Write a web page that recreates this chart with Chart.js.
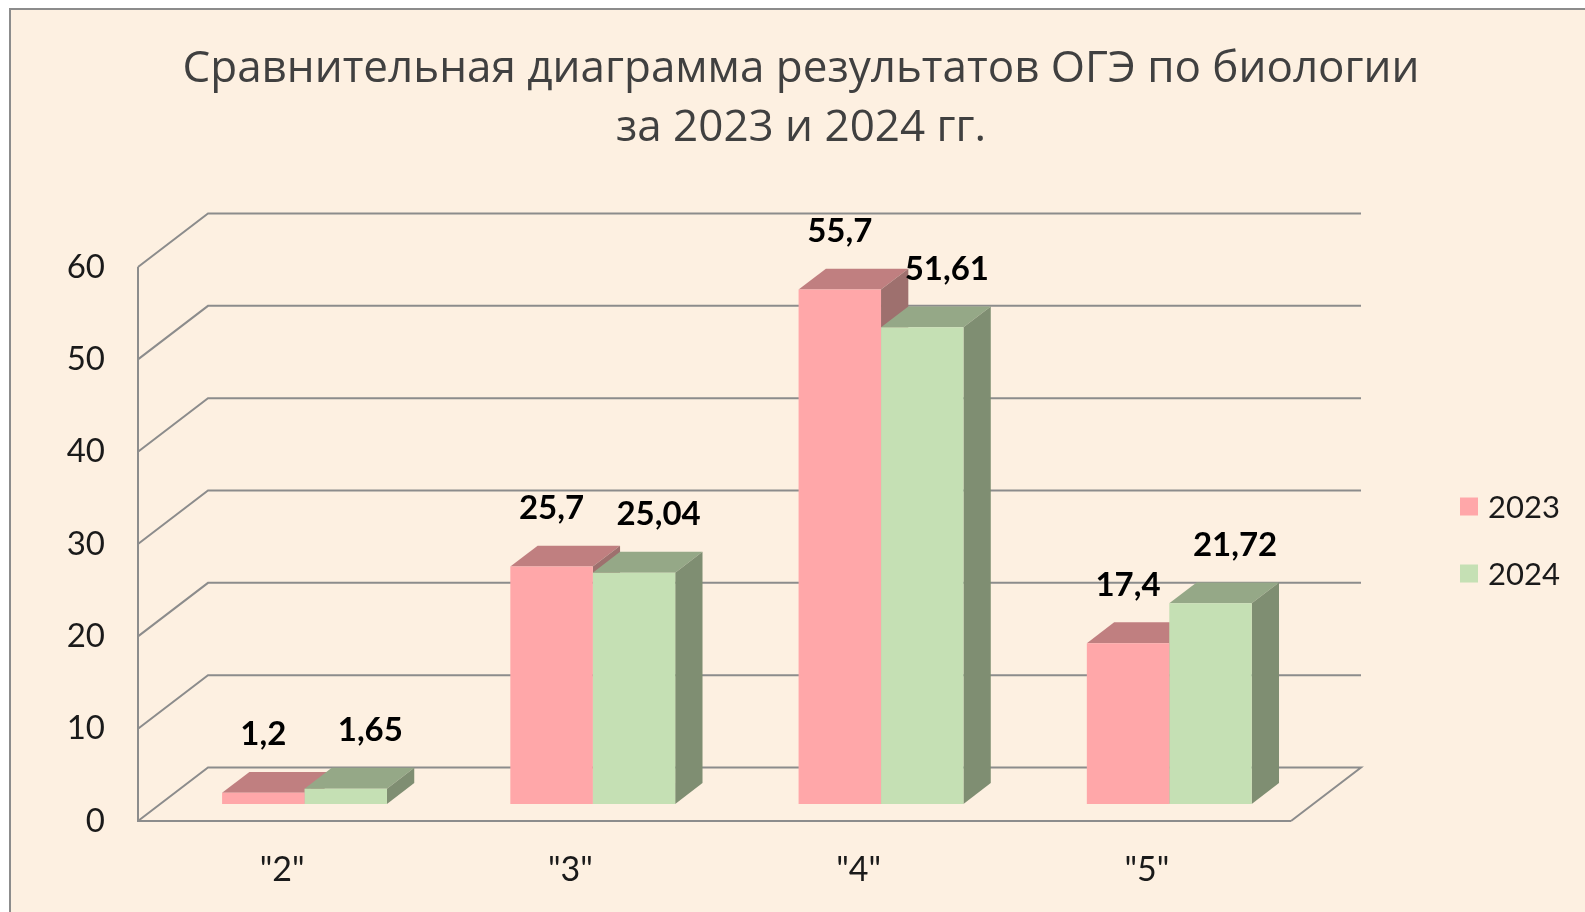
<!DOCTYPE html>
<html lang="ru">
<head>
<meta charset="utf-8">
<title>ОГЭ биология</title>
<script src="https://cdn.jsdelivr.net/npm/chart.js@4.4.1/dist/chart.umd.min.js"></script>
<style>
  html, body { margin: 0; padding: 0; background: #fff; overflow: hidden; }
  #frame {
    position: absolute; left: 9px; top: 8px; width: 1600px; height: 920px;
    background: #fdf0e1; border: 2px solid #8c8c8c; box-sizing: border-box;
  }
  #wrap { position: absolute; left: 0; top: 0; width: 1585px; height: 912px; }
</style>
</head>
<body>
<div id="frame"></div>
<div id="wrap"><canvas id="chart"></canvas></div>
<script>
const categories = ['"2"', '"3"', '"4"', '"5"'];
const years = ['2023', '2024'];
const values2023 = [1.2, 25.7, 55.7, 17.4];
const values2024 = [1.65, 25.04, 51.61, 21.72];
const yTicks = [0, 10, 20, 30, 40, 50, 60];

// depth of the 3d floor and where the bars stand in it
const DEPTH_X = 70, DEPTH_Y = -53.5;
const BAR_Z0 = 0.32, BAR_Z1 = 0.71;

const numFont = '"Lato", "Open Sans", sans-serif';
const fmt = v => String(v).replace('.', ',');

const box3d = {
    id: 'box3d',
    beforeDatasetsDraw(chart) {
        const { ctx, chartArea: a, scales: { y } } = chart;

        // back wall grid + floor
        ctx.save();
        ctx.strokeStyle = '#8c8c8c';
        ctx.lineWidth = 2;
        yTicks.forEach(v => {
            const py = y.getPixelForValue(v);
            ctx.beginPath();
            ctx.moveTo(a.left, py);
            ctx.lineTo(a.left + DEPTH_X, py + DEPTH_Y);
            ctx.lineTo(a.right + DEPTH_X, py + DEPTH_Y);
            if (v === 0) ctx.lineTo(a.right, py);
            ctx.stroke();
        });
        // front axes
        ctx.beginPath();
        ctx.moveTo(a.left, y.getPixelForValue(yTicks[yTicks.length - 1]));
        ctx.lineTo(a.left, a.bottom);
        ctx.lineTo(a.right, a.bottom);
        ctx.stroke();
        ctx.restore();

        // tops and sides, then the library draws the fronts in the same shifted space
        ctx.save();
        ctx.translate(DEPTH_X * BAR_Z0, DEPTH_Y * BAR_Z0);
        const dx = DEPTH_X * (BAR_Z1 - BAR_Z0), dy = DEPTH_Y * (BAR_Z1 - BAR_Z0);
        for (let i = 0; i < categories.length; i++) {
            chart.data.datasets.forEach((ds, d) => {
                const bar = chart.getDatasetMeta(d).data[i];
                const l = bar.x - bar.width / 2, r = bar.x + bar.width / 2;
                ctx.fillStyle = ds.topColor;
                ctx.beginPath();
                ctx.moveTo(l, bar.y);
                ctx.lineTo(r, bar.y);
                ctx.lineTo(r + dx, bar.y + dy);
                ctx.lineTo(l + dx, bar.y + dy);
                ctx.closePath();
                ctx.fill();
                ctx.fillStyle = ds.sideColor;
                ctx.beginPath();
                ctx.moveTo(r, bar.y);
                ctx.lineTo(r + dx, bar.y + dy);
                ctx.lineTo(r + dx, bar.base + dy);
                ctx.lineTo(r, bar.base);
                ctx.closePath();
                ctx.fill();
            });
        }
    },
    afterDatasetsDraw(chart) {
        const { ctx } = chart;
        const dx = DEPTH_X * (BAR_Z1 - BAR_Z0);
        ctx.font = 'bold 33px ' + numFont;
        ctx.fillStyle = '#000';
        ctx.textAlign = 'center';
        ctx.textBaseline = 'middle';
        chart.data.datasets.forEach((ds, d) => {
            chart.getDatasetMeta(d).data.forEach((bar, i) => {
                ctx.fillText(fmt(ds.data[i]), bar.x + d * dx * 0.9, bar.y - 58);
            });
        });
        ctx.restore();
    },
    afterDraw(chart) {
        const { ctx, chartArea: a } = chart;
        const lx = chart.scales.yPad.left + 169;
        const mid = (a.top + a.bottom) / 2 - 4;
        ctx.save();
        ctx.font = '31px ' + numFont;
        ctx.textBaseline = 'middle';
        ctx.textAlign = 'left';
        chart.data.datasets.forEach((ds, d) => {
            const cy = mid + (d - 0.5) * 67;
            ctx.fillStyle = ds.backgroundColor;
            ctx.fillRect(lx, cy - 9, 18, 18);
            ctx.fillStyle = '#1a1a1a';
            ctx.fillText(ds.label, lx + 28, cy + 1);
        });
        ctx.restore();
    }
};

const ctx = document.querySelector('#chart').getContext('2d');
const chart = new Chart(ctx, {
    type: 'bar',
    data: {
        labels: categories,
        datasets: [
            {
                label: years[0],
                data: values2023,
                backgroundColor: '#ffa7a9',
                topColor: '#c07f80',
                sideColor: '#9e706e',
                clip: false
            },
            {
                label: years[1],
                data: values2024,
                backgroundColor: '#c5e0b4',
                topColor: '#95a887',
                sideColor: '#7f8e72',
                clip: false
            }
        ]
    },
    options: {
        responsive: true,
        maintainAspectRatio: false,
        animation: false,
        layout: { padding: { left: 17 } },
        categoryPercentage: 0.572,
        barPercentage: 1,
        scales: {
            x: {
                grid: { display: false },
                border: { display: false },
                ticks: { color: '#1a1a1a', font: { family: numFont, size: 34 }, padding: 21 },
                afterFit(s) { s.height = 91; }
            },
            y: {
                min: 0,
                max: 60,
                grid: { display: false },
                border: { display: false },
                ticks: { stepSize: 10, color: '#1a1a1a', font: { family: numFont, size: 33 }, padding: 25 },
                afterFit(s) { s.width = 121; }
            },
            yPad: {
                position: 'right',
                grid: { display: false },
                border: { display: false },
                ticks: { display: false },
                afterFit(s) { s.width = 294; }
            }
        },
        plugins: {
            legend: { display: false },
            tooltip: { enabled: false },
            title: {
                display: true,
                text: ['Сравнительная диаграмма результатов ОГЭ по биологии', 'за 2023 и 2024 гг.'],
                color: '#404040',
                font: { family: '"Open Sans", "Noto Sans", sans-serif', size: 44, weight: 'normal', lineHeight: 1.34 },
                padding: { top: 40, bottom: 109.1 }
            }
        }
    },
    plugins: [box3d]
});
</script>
</body>
</html>
